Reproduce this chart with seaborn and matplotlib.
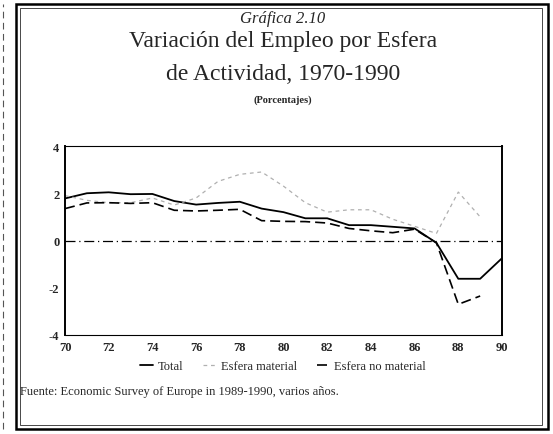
import matplotlib
matplotlib.use('Agg')
import matplotlib.pyplot as plt
import numpy as np
import pandas as pd
import seaborn as sns
from matplotlib.patches import Rectangle
from matplotlib.lines import Line2D

# Data (annual % change)
years = list(range(70, 91))
total = [1.78, 2.00, 2.04, 1.96, 1.97, 1.67, 1.52, 1.59, 1.64, 1.35, 1.20,
         0.94, 0.94, 0.65, 0.65, 0.58, 0.51, -0.10, -1.62, -1.62, -0.75]
esfera_material = [1.90, 1.70, 1.60, 1.60, 1.80, 1.50, 1.80, 2.50, 2.80, 2.90, 2.30,
                   1.60, 1.20, 1.30, 1.30, 0.90, 0.60, 0.30, 2.05, 1.00, np.nan]
esfera_no_material = [1.35, 1.59, 1.60, 1.57, 1.60, 1.28, 1.25, 1.28, 1.32, 0.84, 0.81,
                      0.80, 0.74, 0.51, 0.41, 0.33, 0.48, -0.10, -2.70, -2.35, np.nan]
xticks = list(range(70, 91, 2))
yticks = [-4, -2, 0, 2, 4]

df = pd.DataFrame({'year': years, 'Total': total,
                   'Esfera material': esfera_material,
                   'Esfera no material': esfera_no_material})

sns.set_style('white')
plt.rcParams['font.family'] = ['Liberation Serif', 'DejaVu Serif']
plt.rcParams['xtick.direction'] = 'in'
plt.rcParams['ytick.direction'] = 'in'

W, H = 553, 435
fig = plt.figure(figsize=(W / 100, H / 100), dpi=100)
ax = fig.add_axes([65 / W, 1 - 336 / H, 437 / W, 189 / H])

styles = {
    'Total': dict(color='black', linewidth=1.3, linestyle='-'),
    'Esfera material': dict(color='#b0b0b0', linewidth=0.9, linestyle=(0, (3, 3))),
    'Esfera no material': dict(color='black', linewidth=1.2, linestyle=(0, (6, 3))),
}
for name, st in styles.items():
    sns.lineplot(data=df, x='year', y=name, ax=ax, label=name, **st)

ax.axhline(0, color='black', linewidth=0.9, linestyle=(0, (8, 3, 1, 3)))

ax.set_xlim(70, 90)
ax.set_ylim(-4, 4)
ax.set_xticks(xticks)
ax.set_yticks(yticks)
ax.set_xticklabels([str(t) for t in xticks], fontsize=9, fontweight='bold')
ax.set_yticklabels([str(t) for t in yticks], fontsize=9, fontweight='bold')
ax.tick_params(axis='both', length=4, width=0.8, pad=4)
ax.set_xlabel('')
ax.set_ylabel('')
for side in ['left', 'right', 'top', 'bottom']:
    ax.spines[side].set_color('black')
ax.spines['left'].set_linewidth(1.4)
ax.spines['right'].set_linewidth(1.4)
ax.spines['top'].set_linewidth(0.8)
ax.spines['bottom'].set_linewidth(0.8)

handles = [Line2D([], [], **styles[n]) for n in styles]
ax.legend(handles, list(styles.keys()), loc='center', bbox_to_anchor=(283 / W, 1 - 367 / H),
          bbox_transform=fig.transFigure, ncol=3, frameon=False, fontsize=9,
          handlelength=1.0, columnspacing=1.6, handletextpad=0.4)

cx = 283 / W
fig.text(cx, 1 - 19 / H, 'Gráfica 2.10', ha='center', va='center', fontsize=12, style='italic')
fig.text(cx, 1 - 42 / H, 'Variación del Empleo por Esfera', ha='center', va='center', fontsize=17)
fig.text(cx, 1 - 74 / H, 'de Actividad, 1970-1990', ha='center', va='center', fontsize=17)
fig.text(cx, 1 - 100 / H, '(Porcentajes)', ha='center', va='center', fontsize=7.5, fontweight='bold')
fig.text(20 / W, 1 - 392 / H, 'Fuente: Economic Survey of Europe in 1989-1990, varios años.',
         ha='left', va='center', fontsize=9)

# page frame of the scan
fig.add_artist(Rectangle((16 / W, 1 - 430 / H), 532 / W, 425 / H, transform=fig.transFigure,
                         fill=False, edgecolor='black', linewidth=1.8))
fig.add_artist(Rectangle((20 / W, 1 - 426 / H), 522 / W, 417 / H, transform=fig.transFigure,
                         fill=False, edgecolor='black', linewidth=0.5))
fig.add_artist(Line2D([3 / W, 3 / W], [1 - 430 / H, 1 - 5 / H], transform=fig.transFigure,
                      color='#555555', linewidth=0.8, linestyle=(0, (6, 4))))

fig.savefig('out.png', dpi=100)
